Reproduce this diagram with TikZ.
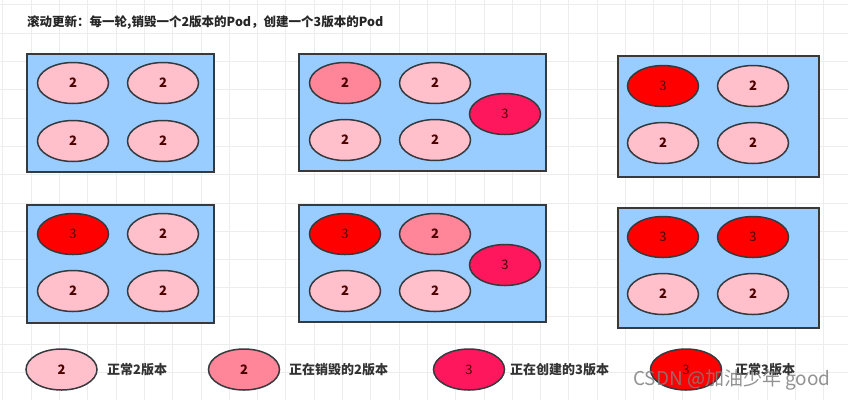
\documentclass[tikz,border=0pt]{standalone}
\usepackage{fontspec}
\setmainfont{Noto Sans CJK SC}
\definecolor{boardblue}{HTML}{99CCFF}
\definecolor{boardedge}{HTML}{36393D}
\definecolor{podpink}{HTML}{FFC0CB}
\definecolor{podkill}{HTML}{FF8599}
\definecolor{podnew}{HTML}{FF175E}
\definecolor{podred}{HTML}{FF0000}
\definecolor{podtext}{HTML}{4C0000}
\usetikzlibrary{shapes.geometric, positioning}

\begin{document}
\begin{tikzpicture}[x=1pt, y=-1pt,
        gridline/.style = {draw = black!7, line width = 0.6pt},
        board/.style = {rectangle, draw = boardedge, fill = boardblue, line width = 1.5pt, anchor = north west, inner sep = 0pt},
        pod/.style = {ellipse, draw = boardedge, line width = 1.5pt, minimum width = 71, minimum height = 41, inner sep = 0pt, text = podtext, font = \fontsize{13}{15}\selectfont},
        pod2/.style = {pod, fill = podpink, font = \fontsize{13}{15}\selectfont\bfseries},
        podkill2/.style = {pod, fill = podkill, font = \fontsize{13}{15}\selectfont\bfseries},
        podnew3/.style = {pod, fill = podnew},
        podred3/.style = {pod, fill = podred},
        legtext/.style = {anchor = west, inner sep = 0pt, text = black!80, font = \fontsize{13}{15}\selectfont\bfseries}]

        \useasboundingbox [fill = white] (0,0) rectangle (848,400);

        % background grid
        \foreach \i in {0, ..., 29}
        {
            \draw [gridline] ({2.7 + 28.3*\i}, 0) -- ++(0, 400);
        }
        \foreach \j in {0, ..., 14}
        {
            \draw [gridline] (0, {4.7 + 28.3*\j}) -- ++(848, 0);
        }

        \node (title) [anchor = west, inner sep = 0pt, text = black!85, font = \fontsize{12.5}{14}\selectfont\bfseries] at (27,23) {滚动更新：每一轮,销毁一个2版本的Pod，创建一个3版本的Pod};

        % boards
        \node (board1) [board, minimum width = 187, minimum height = 118] at (26,53) {};
        \node (board2) [board, minimum width = 247, minimum height = 117] at (298,53) {};
        \node (board3) [board, minimum width = 201, minimum height = 121] at (617,55) {};
        \node (board4) [board, minimum width = 187, minimum height = 118] at (26,204) {};
        \node (board5) [board, minimum width = 247, minimum height = 117] at (298,204) {};
        \node (board6) [board, minimum width = 201, minimum height = 120] at (617,207) {};

        % round 0
        \node (p1a) [pod2] at (73,83) {2};
        \node (p1b) [pod2] at (163,83) {2};
        \node (p1c) [pod2] at (73,141) {2};
        \node (p1d) [pod2] at (163,141) {2};

        % round 1
        \node (p2a) [podkill2] at (345,83) {2};
        \node (p2b) [pod2] at (435,83) {2};
        \node (p2c) [pod2] at (345,140) {2};
        \node (p2d) [pod2] at (435,140) {2};
        \node (p2e) [podnew3] at (505,114) {3};

        \node (p3a) [podred3] at (663,86) {3};
        \node (p3b) [pod2] at (753,86) {2};
        \node (p3c) [pod2] at (663,143) {2};
        \node (p3d) [pod2] at (753,143) {2};

        % round 2
        \node (p4a) [podred3] at (73,234) {3};
        \node (p4b) [pod2] at (163,234) {2};
        \node (p4c) [pod2] at (73,291) {2};
        \node (p4d) [pod2] at (163,291) {2};

        \node (p5a) [podred3] at (345,234) {3};
        \node (p5b) [podkill2] at (435,234) {2};
        \node (p5c) [pod2] at (345,291) {2};
        \node (p5d) [pod2] at (435,291) {2};
        \node (p5e) [podnew3] at (505,265) {3};

        \node (p6a) [podred3] at (663,237) {3};
        \node (p6b) [podred3] at (753,237) {3};
        \node (p6c) [pod2] at (663,294) {2};
        \node (p6d) [pod2] at (753,294) {2};

        % legend
        \node (leg1) [pod2] at (61.5,369.5) {2};
        \node (legtext1) [legtext] at (107,369.5) {正常2版本};
        \node (leg2) [podkill2] at (244,369.5) {2};
        \node (legtext2) [legtext] at (289,369.5) {正在销毁的2版本};
        \node (leg3) [podnew3] at (469,369.5) {3};
        \node (legtext3) [legtext] at (510,369.5) {正在创建的3版本};
        \node (leg4) [podred3] at (686,369.5) {3};
        \node (legtext4) [legtext] at (735,369.5) {正常3版本};

        \node (mark) [anchor = west, inner sep = 0pt, text = black!50, opacity = 0.85, font = \fontsize{19}{21}\selectfont] at (633,380) {CSDN @加油少年 good};
    \end{tikzpicture}
\end{document}
